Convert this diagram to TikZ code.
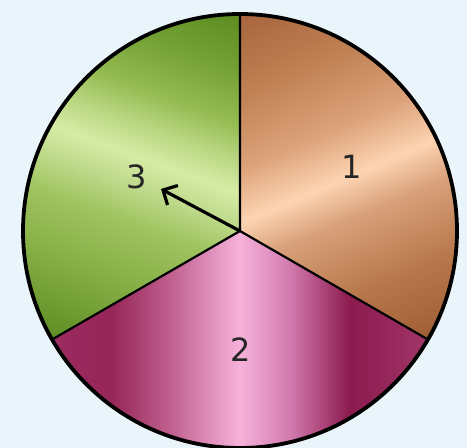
\documentclass[tikz,border=0pt]{standalone}
\usepackage{fontspec}
\setmainfont{DejaVu Sans}
\usetikzlibrary{arrows.meta,calc}
\definecolor{bg}{HTML}{E9F5FB}
% brown stops
\definecolor{brA}{HTML}{9C5A30}
\definecolor{brB}{HTML}{B8784C}
\definecolor{brC}{HTML}{D8A07A}
\definecolor{brL}{HTML}{FDD4B2}
\definecolor{brD}{HTML}{DCA27A}
\definecolor{brE}{HTML}{BF8052}
\definecolor{brF}{HTML}{A5623C}
% green stops
\definecolor{grA}{HTML}{5E8E24}
\definecolor{grB}{HTML}{88B048}
\definecolor{grC}{HTML}{A0C460}
\definecolor{grCC}{HTML}{BCD888}
\definecolor{grL}{HTML}{D6ECA6}
\definecolor{grDD}{HTML}{B8D680}
\definecolor{grD}{HTML}{96BC54}
\definecolor{grE}{HTML}{76A236}
\definecolor{grF}{HTML}{5C8C20}
% pink stops
\definecolor{pkA}{HTML}{A53A6C}
\definecolor{pkB}{HTML}{9A2A5E}
\definecolor{pkC}{HTML}{962658}
\definecolor{pkD}{HTML}{C0608F}
\definecolor{pkL}{HTML}{F6B2DA}
\definecolor{pkE}{HTML}{D27AAE}
\definecolor{pkF}{HTML}{8C1A4E}
\pgfdeclareverticalshading{brownsh}{100bp}{color(0bp)=(brA); color(26.25bp)=(brA); color(36.25bp)=(brB); color(45bp)=(brC); color(50bp)=(brL); color(56.25bp)=(brD); color(65bp)=(brE); color(75bp)=(brF); color(100bp)=(brF)}
\pgfdeclareverticalshading{greensh}{100bp}{color(0bp)=(grA); color(25bp)=(grA); color(35bp)=(grB); color(42bp)=(grC); color(46bp)=(grCC); color(50bp)=(grL); color(54bp)=(grDD); color(58bp)=(grD); color(64bp)=(grE); color(71bp)=(grF); color(100bp)=(grF)}
\pgfdeclarehorizontalshading{pinksh}{100bp}{color(0bp)=(pkA); color(25bp)=(pkA); color(28bp)=(pkB); color(34bp)=(pkC); color(41.25bp)=(pkD); color(50bp)=(pkL); color(56.25bp)=(pkE); color(63.75bp)=(pkF); color(75bp)=(pkA); color(100bp)=(pkA)}
\tikzset{
  rim/.style={draw=black, line width=3.8pt},
  divider/.style={draw=black, line width=2.2pt},
  pointer/.style={draw=black, line width=3.2pt, -{Straight Barb[length=11pt,width=22pt,line width=3.2pt]}},
  numlabel/.style={font=\fontsize{32}{34}\selectfont, text=black!85, inner sep=0pt}
}
\begin{document}
\begin{tikzpicture}[x=1pt,y=1pt]
\fill[bg] (0,0) rectangle (467,448);
\useasboundingbox (0,0) rectangle (467,448);
\def\R{217}
\coordinate (c) at (240,217);
% sector 1 (brown)
\begin{scope}
\clip (c) -- ++(90:\R) arc[start angle=90, end angle=-30, radius=\R] -- cycle;
\begin{scope}[transform canvas={rotate around={23:(348,271)}}]
\shade[shading=brownsh] (48,71) rectangle (648,471);
\end{scope}
\end{scope}
% sector 2 (pink)
\begin{scope}
\clip (c) -- ++(-30:\R) arc[start angle=-30, end angle=-150, radius=\R] -- cycle;
\shade[shading=pinksh] (40,-10) rectangle (440,230);
\end{scope}
% sector 3 (green)
\begin{scope}
\clip (c) -- ++(210:\R) arc[start angle=210, end angle=90, radius=\R] -- cycle;
\begin{scope}[transform canvas={rotate around={-20:(131,294)}}]
\shade[shading=greensh] (-169,94) rectangle (431,494);
\end{scope}
\end{scope}
% dividers
\coordinate (p1) at ($(c)+(90:\R)$);
\coordinate (p2) at ($(c)+(-30:\R)$);
\coordinate (p3) at ($(c)+(210:\R)$);
\draw[divider] (p1) -- (c) -- (p2);
\draw[divider] (c) -- (p3);
\draw[rim] (c) circle[radius=\R];
% pointer
\coordinate (tip) at (161,259);
\draw[pointer] (c) -- (tip);
% labels
\node[numlabel] (n1) at (352,281) {1};
\node[numlabel] (n2) at (241,98) {2};
\node[numlabel] (n3) at (137,271) {3};
\end{tikzpicture}
\end{document}
